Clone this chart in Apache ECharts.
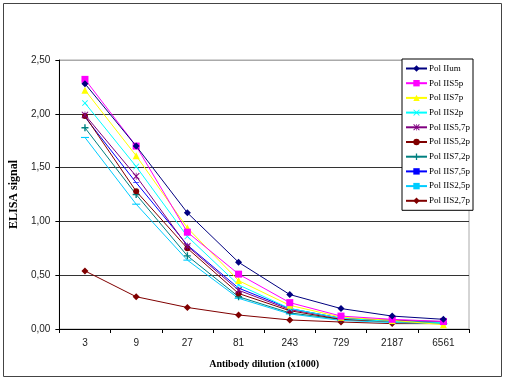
<!DOCTYPE html>
<html><head><meta charset="utf-8">
<script src="https://cdn.jsdelivr.net/npm/echarts@6/dist/echarts.min.js"></script>
<style>html,body{margin:0;padding:0;background:#fff}#c{width:508px;height:384px}</style>
</head><body><div id="c"></div>
<script>
const categories = ['3','9','27','81','243','729','2187','6561'];
const seriesNames = ['Pol IIum','Pol IIS5p','Pol IIS7p','Pol IIS2p','Pol IIS5,7p','Pol IIS5,2p','Pol IIS7,2p','Pol IIS7,5p','Pol IIS2,5p','Pol IIS2,7p'];
const polIIum   = [2.28, 1.70, 1.08, 0.62, 0.32, 0.19, 0.12, 0.09];
const polIIS5p  = [2.32, 1.70, 0.90, 0.51, 0.245, 0.12, 0.09, 0.07];
const polIIS7p  = [2.22, 1.61, 0.94, 0.45, 0.22, 0.11, 0.08, 0.04];
const polIIS2p  = [2.10, 1.51, 0.86, 0.41, 0.19, 0.10, 0.07, 0.06];
const polIIS57p = [1.99, 1.42, 0.77, 0.36, 0.18, 0.10, 0.08, 0.07];
const polIIS52p = [1.98, 1.28, 0.75, 0.33, 0.17, 0.09, 0.07, 0.06];
const polIIS72p = [1.87, 1.25, 0.68, 0.30, 0.15, 0.09, 0.07, 0.06];
const polIIS75p = [1.97, 1.36, 0.78, 0.38, 0.19, 0.10, 0.08, 0.06];
const polIIS25p = [1.78, 1.16, 0.64, 0.285, 0.14, 0.08, 0.06, 0.05];
const polIIS27p = [0.54, 0.30, 0.20, 0.13, 0.084, 0.065, 0.05, 0.05];
const yTicks = [0, 0.5, 1, 1.5, 2, 2.5];

const allData = [polIIum,polIIS5p,polIIS7p,polIIS2p,polIIS57p,polIIS52p,polIIS72p,polIIS75p,polIIS25p,polIIS27p];
const colors = ['#000080','#FF00FF','#FFFF00','#00FFFF','#800080','#800000','#008080','#0000FF','#00CCFF','#800000'];
const plusPath = 'path://M4,0L6,0L6,4L10,4L10,6L6,6L6,10L4,10L4,6L0,6L0,4L4,4Z';
const xPath = 'path://M1,0L5,4L9,0L10,1L6,5L10,9L9,10L5,6L1,10L0,9L4,5L0,1Z';
const starPath = 'path://M1,0L4.5,3.5L4.5,0L5.5,0L5.5,3.5L9,0L10,1L6,5L10,9L9,10L5.5,6.5L5.5,10L4.5,10L4.5,6.5L1,10L0,9L4,5L0,1Z';
const shortBar = 'path://M0,0L6,0L6,2L0,2Z';
const longBar = 'path://M0,0L8,0L8,3L0,3Z';
const symbols = ['diamond','rect','triangle',xPath,starPath,'circle',plusPath,shortBar,longBar,'diamond'];
const sizes = [7,7,7,6,7,6,7,[6,2],[8,3],7];
const keepAspect = [false,false,false,false,false,false,false,true,true,false];

const chart = echarts.init(document.getElementById('c'));
chart.setOption({
  animation:false,
  backgroundColor:'#fff',
  graphic:[{type:'rect',shape:{x:3.5,y:3.5,width:498,height:373},style:{fill:'none',stroke:'#444',lineWidth:1},z:-1}],
  grid:{left:52,top:60,right:39,bottom:55,show:true,borderColor:'#aaa',borderWidth:1,backgroundColor:'transparent'},
  legend:{
    orient:'vertical',left:402,top:59,width:68,height:142,
    backgroundColor:'#fff',borderColor:'#000',borderWidth:1,
    padding:[5,3,5,3],itemGap:5.7,itemWidth:21,itemHeight:8,
    textStyle:{fontFamily:'Liberation Serif',fontSize:9,color:'#000',padding:[0,0,0,-3]},
    data:seriesNames
  },
  xAxis:{
    type:'category',data:categories,boundaryGap:true,
    axisLine:{lineStyle:{color:'#000',width:1}},
    axisTick:{show:true,length:4,inside:false,lineStyle:{color:'#000'}},
    axisLabel:{fontFamily:'Liberation Sans',fontSize:10,color:'#222',margin:9},
    name:'Antibody dilution (x1000)',nameLocation:'middle',nameGap:30,
    nameTextStyle:{fontFamily:'Liberation Serif',fontWeight:'bold',fontSize:10,color:'#000'}
  },
  yAxis:{
    type:'value',min:0,max:2.5,interval:0.5,
    axisLine:{show:true,lineStyle:{color:'#000',width:1}},
    axisTick:{show:true,length:4,lineStyle:{color:'#000'}},
    axisLabel:{fontFamily:'Liberation Sans',fontSize:10,color:'#222',margin:9,
      formatter:v=>v.toFixed(2).replace('.',',')},
    splitLine:{show:true,lineStyle:{color:['#000','#333','#333','#333','#333','#aaa'],width:1}},
    name:'ELISA signal',nameLocation:'middle',nameGap:35,nameRotate:90,
    nameTextStyle:{fontFamily:'Liberation Serif',fontWeight:'bold',fontSize:12,color:'#000'}
  },
  series:seriesNames.map((n,i)=>({
    name:n,type:'line',data:allData[i],
    symbol:symbols[i],symbolSize:sizes[i],symbolKeepAspect:keepAspect[i],showSymbol:true,
    lineStyle:{color:colors[i],width:1},
    itemStyle:{color:colors[i]},
    z:10-i
  }))
});
</script></body></html>
